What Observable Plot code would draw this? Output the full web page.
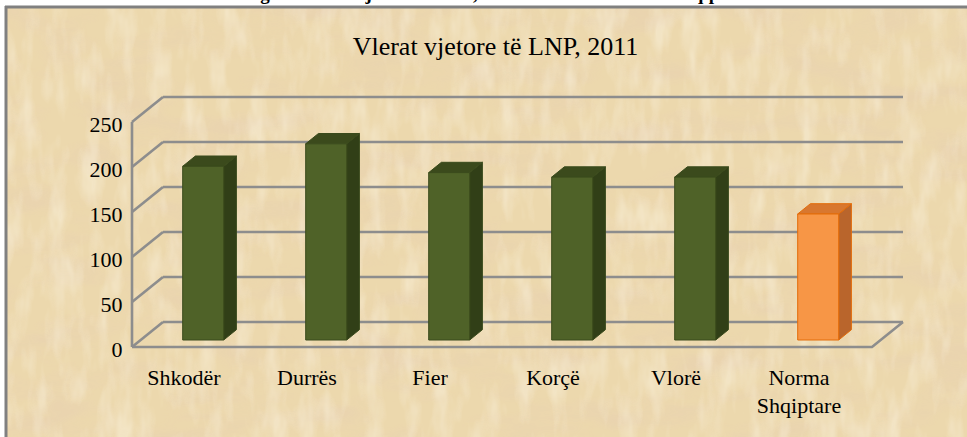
<!DOCTYPE html>
<html>
<head>
<meta charset="utf-8">
<script src="https://cdn.jsdelivr.net/npm/d3@7"></script>
<script src="https://cdn.jsdelivr.net/npm/@observablehq/plot@0.6"></script>
<style>
  html, body { margin: 0; padding: 0; background: #ffffff; }
  #wrap { position: relative; width: 967px; height: 437px; overflow: hidden; }
  #bg { position: absolute; left: 0; top: 0; }
  #chart { position: absolute; left: 0; top: 0; }
  #chart svg, #chart text { font-family: 'Liberation Serif', 'Times New Roman', serif; }
</style>
</head>
<body>
<div id="wrap">
  <svg id="bg" width="967" height="437">
    <defs>
      <filter id="parch" x="0" y="0" width="100%" height="100%">
        <feTurbulence type="fractalNoise" baseFrequency="0.012 0.035" numOctaves="4" seed="7" result="n"/>
        <feColorMatrix in="n" type="matrix"
          values="0 0 0 0 0.80
                  0 0 0 0 0.62
                  0 0 0 0 0.45
                  0 0 0 -2.2 1.25"/>
      </filter>
      <filter id="parch2" x="0" y="0" width="100%" height="100%">
        <feTurbulence type="fractalNoise" baseFrequency="0.06 0.02" numOctaves="3" seed="2" result="n"/>
        <feColorMatrix in="n" type="matrix"
          values="0 0 0 0 0.98
                  0 0 0 0 0.93
                  0 0 0 0 0.80
                  0 0 0 -2.5 1.4"/>
      </filter>
    </defs>
    <rect x="5" y="6" width="962" height="431" fill="#ecd8ad"/>
    <rect x="5" y="6" width="962" height="431" filter="url(#parch)" opacity="0.5"/>
    <rect x="5" y="6" width="962" height="431" filter="url(#parch2)" opacity="0.4"/>
    <line x1="5" y1="7" x2="967" y2="7" stroke="#808080" stroke-width="3"/>
    <line x1="6" y1="6" x2="6" y2="437" stroke="#808080" stroke-width="3"/>
  </svg>
  <div id="chart"></div>
</div>
<script>
// ---- data ----
const categories = ["Shkodër", "Durrës", "Fier", "Korçë", "Vlorë", "Norma Shqiptare"];
const values = [193, 218, 186, 181, 181, 140];
const xTickLabels = ["Shkodër", "Durrës", "Fier", "Korçë", "Vlorë", "Norma\nShqiptare"];
const yTicks = [0, 50, 100, 150, 200, 250];
const chartTitle = "Vlerat vjetore të LNP, 2011";
const figTitle = "Fig. 3: Vlerat vjetore të LNP, krahasuar me Normën Shqiptare";

const rows = categories.map((c, i) => ({category: c, value: values[i], label: xTickLabels[i], norm: i === categories.length - 1}));

const SERIF = "'Liberation Serif', 'Times New Roman', serif";

// depth geometry of the 3-D look (pixels)
const DX = 31, DY = -25;          // depth of the wall/floor
const BDX0 = 8.7, BDY0 = -7;      // front face of bars
const BDX = 12.7, BDY = -10.3;    // bar depth
const BAR_W = 41;

const greenFill = {front: "#4f6228", side: "#313f17", top: "#3b4a1c", stroke: "#3a4a1c"};
const orangeFill = {front: "#f79646", side: "#b9652c", top: "#d8772f", stroke: "#e36c09"};
const gridColor = "#8d8d8d";

function walls(index, scales, vals, dims) {
  const {x, y} = scales;
  const g = d3.create("svg:g");
  const x0 = dims.marginLeft, x1 = dims.width - dims.marginRight;
  const yMax = yTicks[yTicks.length - 1];
  for (const t of yTicks) {
    g.append("line").attr("x1", x0 + DX).attr("x2", x1 + DX)
      .attr("y1", y(t) + DY).attr("y2", y(t) + DY)
      .attr("stroke", gridColor).attr("stroke-width", 2.6);
  }
  for (const t of yTicks) {
    g.append("line").attr("x1", x0).attr("y1", y(t)).attr("x2", x0 + DX).attr("y2", y(t) + DY)
      .attr("stroke", gridColor).attr("stroke-width", 2.6);
  }
  g.append("line").attr("x1", x0).attr("x2", x0).attr("y1", y(0)).attr("y2", y(yMax))
    .attr("stroke", gridColor).attr("stroke-width", 2.6);
  g.append("polyline")
    .attr("points", [[x0, y(0)], [x1, y(0)], [x1 + DX, y(0) + DY]].map(p => p.join(",")).join(" "))
    .attr("fill", "none").attr("stroke", gridColor).attr("stroke-width", 2.6);
  return g.node();
}

function bars3d(index, scales, vals, dims) {
  const {x, y} = scales;
  const g = d3.create("svg:g");
  const step = typeof x.bandwidth === "function" ? x.bandwidth() : (x(categories[1]) - x(categories[0]));
  rows.forEach(r => {
    const col = r.norm ? orangeFill : greenFill;
    const cx = x(r.category) + step / 2 + BDX0;
    const L = cx - BAR_W / 2, R = cx + BAR_W / 2;
    const B = y(0) + BDY0, T = y(r.value) + BDY0;
    const poly = (pts, fill) => g.append("polygon")
      .attr("points", pts.map(p => p.join(",")).join(" "))
      .attr("fill", fill).attr("stroke", col.stroke).attr("stroke-width", 1).attr("stroke-linejoin", "round");
    poly([[R, B], [R + BDX, B + BDY], [R + BDX, T + BDY], [R, T]], col.side);
    poly([[L, T], [R, T], [R + BDX, T + BDY], [L + BDX, T + BDY]], col.top);
    poly([[L, B], [R, B], [R, T], [L, T]], col.front);
  });
  return g.node();
}

const plot = Plot.plot({
  width: 967,
  height: 437,
  marginLeft: 132,
  marginRight: 95,
  marginTop: 122,
  marginBottom: 90,
  style: {background: "transparent", fontFamily: SERIF, color: "#000"},
  x: {type: "band", domain: categories, padding: 0, axis: null},
  y: {domain: [0, 250], axis: null},
  marks: [
    walls,
    bars3d,
    Plot.text(yTicks, {y: d => d, text: d => String(d), frameAnchor: "left", textAnchor: "end", dx: -10, dy: 2, fontSize: 22, fontFamily: SERIF, fill: "#000"}),
    Plot.text(rows, {x: "category", y: () => 0, text: "label", lineAnchor: "top", dy: 17, dx: -11, fontSize: 22, fontFamily: SERIF, lineHeight: 1.3, fill: "#000"}),
    Plot.text([chartTitle], {frameAnchor: "top", text: d => d, dy: -86, dx: -7, fontSize: 26, fontFamily: SERIF, fill: "#000"}),
    Plot.text([figTitle], {frameAnchor: "top", text: d => d, lineAnchor: "middle", dy: -129, dx: -5, fontSize: 19, fontWeight: "bold", fontFamily: SERIF, fill: "#000"})
  ]
});
document.getElementById("chart").appendChild(plot);
</script>
</body>
</html>
